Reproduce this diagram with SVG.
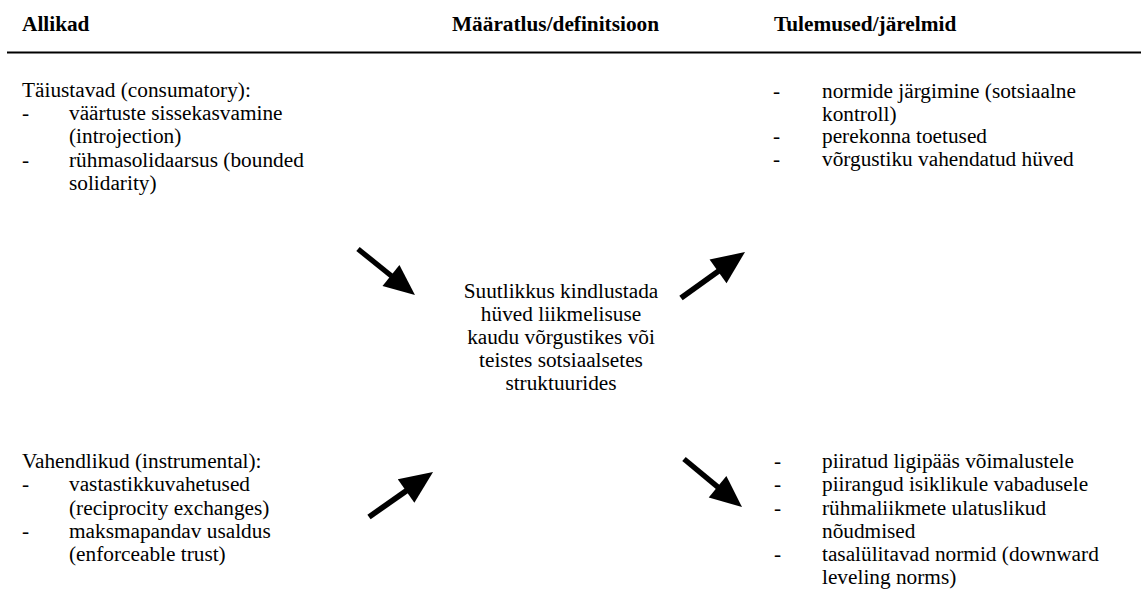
<svg xmlns="http://www.w3.org/2000/svg" xmlns:xlink="http://www.w3.org/1999/xlink" width="1141" height="593" viewBox="0 0 1141 593">
<style>
  text { font-family: "Liberation Serif", Tinos, "Times New Roman", "DejaVu Serif", serif; font-size: 21.3px; fill: #000; }
  .h { font-weight: bold; }
  .c { text-anchor: middle; }
</style>
<defs>
  <g id="arrow">
    <line x1="0" y1="0" x2="48" y2="0" stroke="#000" stroke-width="5.5"/>
    <polygon points="44,-14 76,0 44,14" fill="#000"/>
  </g>
</defs>
<rect width="1141" height="593" fill="#fff"/>
<g id="header" font-family="Liberation Serif, serif">
  <text class="h" x="22" y="31">Allikad</text>
  <text class="h" x="452" y="31">Määratlus/definitsioon</text>
  <text class="h" x="774" y="31">Tulemused/järelmid</text>
  <line x1="7" y1="52.5" x2="1141" y2="52.5" stroke="#000" stroke-width="2.2"/>
</g>
<g id="consumatory">
  <text x="22" y="97">Täiustavad (consumatory):</text>
  <text x="22" y="120">-</text>
  <text x="69" y="120">väärtuste sissekasvamine</text>
  <text x="69" y="143">(introjection)</text>
  <text x="22" y="167">-</text>
  <text x="69" y="167">rühmasolidaarsus (bounded</text>
  <text x="69" y="190">solidarity)</text>
</g>
<g id="instrumental">
  <text x="22" y="468">Vahendlikud (instrumental):</text>
  <text x="22" y="491">-</text>
  <text x="69" y="491">vastastikkuvahetused</text>
  <text x="69" y="515">(reciprocity exchanges)</text>
  <text x="22" y="538">-</text>
  <text x="69" y="538">maksmapandav usaldus</text>
  <text x="69" y="561">(enforceable trust)</text>
</g>
<g id="definition">
  <text class="c" x="561" y="298">Suutlikkus kindlustada</text>
  <text class="c" x="561" y="321">hüved liikmelisuse</text>
  <text class="c" x="561" y="344">kaudu võrgustikes või</text>
  <text class="c" x="561" y="367">teistes sotsiaalsetes</text>
  <text class="c" x="561" y="390">struktuurides</text>
</g>
<g id="positive">
  <text x="773" y="98">-</text>
  <text x="822" y="98">normide järgimine (sotsiaalne</text>
  <text x="822" y="121">kontroll)</text>
  <text x="773" y="143">-</text>
  <text x="822" y="143">perekonna toetused</text>
  <text x="773" y="166">-</text>
  <text x="822" y="166">võrgustiku vahendatud hüved</text>
</g>
<g id="negative">
  <text x="774" y="468">-</text>
  <text x="822" y="468">piiratud ligipääs võimalustele</text>
  <text x="774" y="491">-</text>
  <text x="822" y="491">piirangud isiklikule vabadusele</text>
  <text x="774" y="515">-</text>
  <text x="822" y="515">rühmaliikmete ulatuslikud</text>
  <text x="822" y="538">nõudmised</text>
  <text x="774" y="561">-</text>
  <text x="822" y="561">tasalülitavad normid (downward</text>
  <text x="822" y="584">leveling norms)</text>
</g>
<g id="connectors">
  <use xlink:href="#arrow" transform="translate(358,249) rotate(38.9) scale(0.963)"/>
  <use xlink:href="#arrow" transform="translate(681,298) rotate(-35.7) scale(1.037)"/>
  <use xlink:href="#arrow" transform="translate(369,517) rotate(-35.1) scale(1.03)"/>
  <use xlink:href="#arrow" transform="translate(684,459) rotate(39.6) scale(0.99)"/>
</g>
</svg>
